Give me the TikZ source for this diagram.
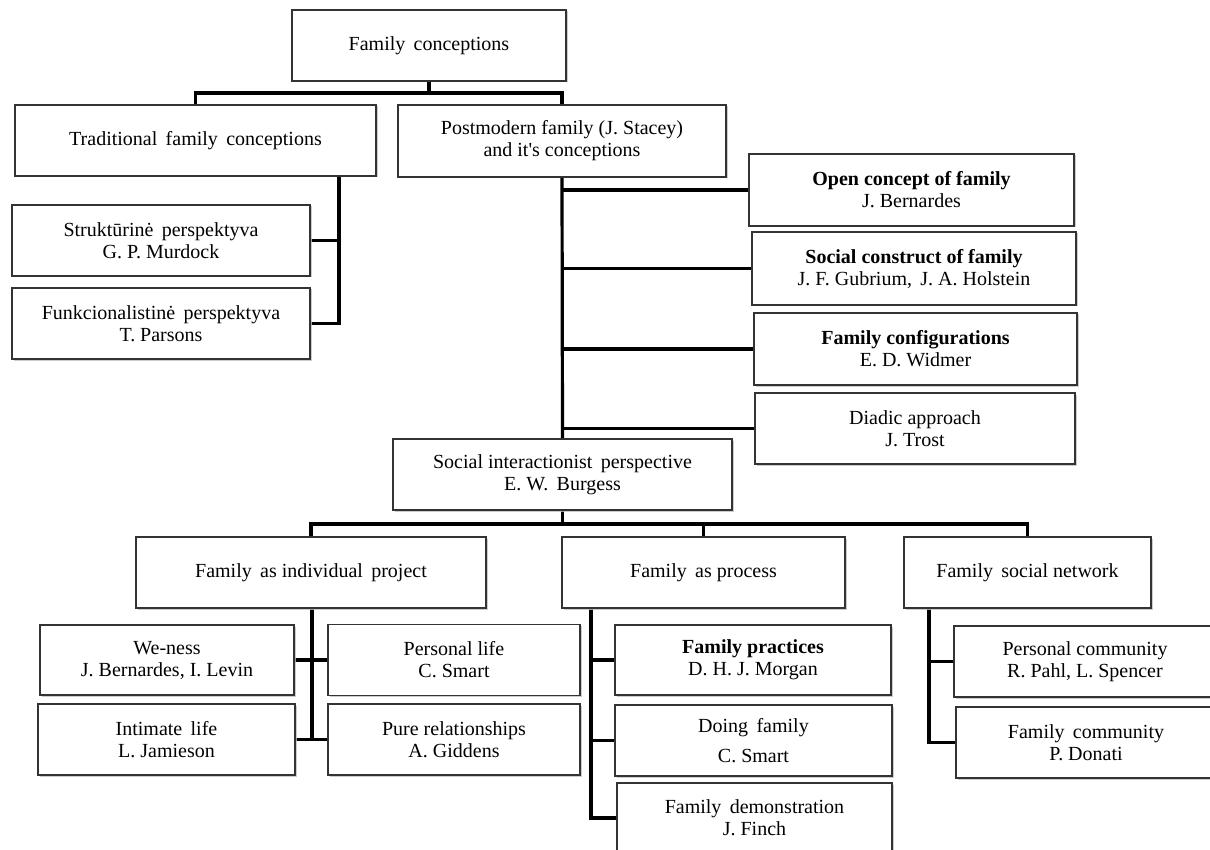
\documentclass[tikz,border=0pt]{standalone}
\usepackage{fontspec}
\setmainfont{Liberation Serif}
\usetikzlibrary{shadows,backgrounds}
\begin{document}
\begin{tikzpicture}[x=1pt,y=-1pt,
  box/.style={draw=black!80, line width=1.6pt, fill=white, align=center,
    inner sep=0pt, font=\fontsize{20}{22}\selectfont,
    drop shadow={shadow xshift=1.5pt, shadow yshift=-1.5pt, fill=black!25, opacity=0.8}},
  conn/.style={draw=black, line width=3.2pt, line cap=butt, line join=miter}]
\useasboundingbox (0,0) rectangle (1210,850);
\clip (0,0) rectangle (1210,850);
% nodes
\node[box, minimum width=274pt, minimum height=71pt] (fc) at (429,45.5) {Family\, conceptions};
\node[box, minimum width=361pt, minimum height=71pt] (trad) at (195.5,140.5) {Traditional\, family\, conceptions};
\node[box, minimum width=328pt, minimum height=72pt] (post) at (562,141) {Postmodern family (J. Stacey)\\and it\textquotesingle s conceptions};
\node[box, minimum width=298pt, minimum height=71pt] (struk) at (161,240.5) {Struktūrinė\, perspektyva\\G. P. Murdock};
\node[box, minimum width=298pt, minimum height=71pt] (funk) at (161,323.5) {Funkcionalistinė\, perspektyva\\T. Parsons};
\node[box, minimum width=325pt, minimum height=72pt] (open) at (911.5,190) {\textbf{Open concept of family}\\J. Bernardes};
\node[box, minimum width=324pt, minimum height=73pt] (soc) at (914,268.5) {\textbf{Social construct of family}\\J. F. Gubrium,\, J. A. Holstein};
\node[box, minimum width=323pt, minimum height=72pt] (conf) at (915.5,349) {\textbf{Family configurations}\\E. D. Widmer};
\node[box, minimum width=320pt, minimum height=71pt] (diad) at (915,428.5) {Diadic approach\\J. Trost};
\node[box, minimum width=339pt, minimum height=71pt] (si) at (562.5,474.5) {Social interactionist\, perspective\\E. W.\, Burgess};
\node[box, minimum width=350pt, minimum height=71pt] (fip) at (311,572.5) {Family\, as individual\, project};
\node[box, minimum width=283pt, minimum height=71pt] (fap) at (703.5,572.5) {Family\, as process};
\node[box, minimum width=247pt, minimum height=71pt] (fsn) at (1027.5,572.5) {Family\, social network};
\node[box, minimum width=254pt, minimum height=70pt] (we) at (167,660) {We-ness\\J. Bernardes, I. Levin};
\node[box, minimum width=252pt, minimum height=71pt] (pers) at (454,660) {Personal life\\C. Smart};
\node[box, minimum width=257pt, minimum height=71pt] (intim) at (166.5,739.5) {Intimate\, life\\L. Jamieson};
\node[box, minimum width=252pt, minimum height=71pt] (pure) at (454,739.5) {Pure relationships\\A. Giddens};
\node[box, minimum width=276pt, minimum height=70pt] (prac) at (753,660) {\textbf{Family practices}\\D. H. J. Morgan};
\node[box, minimum width=277pt, minimum height=71pt] (doing) at (753.5,740.5) {Doing\, family\\[8pt]C. Smart};
\node[box, minimum width=275pt, minimum height=70pt] (demo) at (754.5,818) {Family\, demonstration\\J. Finch};
\node[box, minimum width=262pt, minimum height=71pt] (pcom) at (1085,661.5) {Personal community\\R. Pahl, L. Spencer};
\node[box, minimum width=260pt, minimum height=71pt] (fcom) at (1086,742.5) {Family\, community\\P. Donati};
% helper coordinates
\coordinate (j1) at (429,93);
\coordinate (tv) at (339,0);
\coordinate (j2) at (562.5,524);
\coordinate (fipv) at (312,0);
\coordinate (fapv) at (591,0);
\coordinate (fsnv) at (929,0);
% connectors
\begin{scope}[on background layer]
\draw[conn] (fc.south) -- (j1);
\draw[conn] (j1) -| (trad.north);
\draw[conn] (j1) -| (post.north);
\draw[conn] (trad.south -| tv) |- (struk.east);
\draw[conn] (trad.south -| tv) |- (funk.east);
\draw[conn] (post.south) -- (si.north);
\draw[conn] (post.south |- open.west) -- (open.west);
\draw[conn] (post.south |- soc.west) -- (soc.west);
\draw[conn] (post.south |- conf.west) -- (conf.west);
\draw[conn] (post.south |- diad.west) -- (diad.west);
\draw[conn] (si.south) -- (j2);
\draw[conn] (j2) -| (fip.north);
\draw[conn] (j2) -| (fap.north);
\draw[conn] (j2) -| (fsn.north);
\draw[conn] (fip.south -| fipv) -- ([yshift=1.6pt]intim.east -| fipv);
\draw[conn] (we.east) -- (pers.west);
\draw[conn] (intim.east) -- (pure.west);
\draw[conn] (fap.south -| fapv) |- (demo.west);
\draw[conn] (fap.south -| fapv) |- (prac.west);
\draw[conn] (fap.south -| fapv) |- (doing.west);
\draw[conn] (fsn.south -| fsnv) |- (pcom.west);
\draw[conn] (fsn.south -| fsnv) |- (fcom.west);
\end{scope}
\end{tikzpicture}
\end{document}
